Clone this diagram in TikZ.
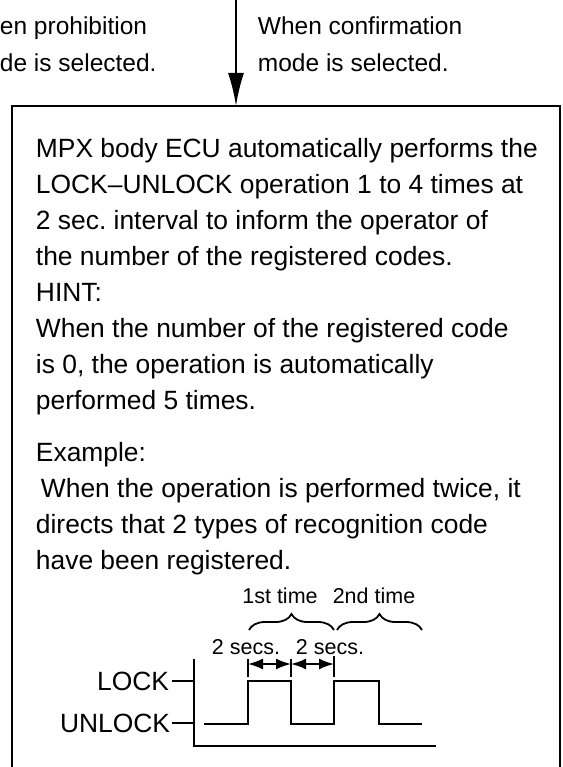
\documentclass[tikz,border=0pt]{standalone}
\usepackage{fontspec}
\setmainfont{Liberation Sans}
\usepackage{tikz}
\usetikzlibrary{positioning}
\usetikzlibrary{arrows.meta}
\usetikzlibrary{decorations.pathreplacing}
\tikzset{bigtxt/.style={font=\fontsize{26.4}{36}\selectfont, align=left, inner sep=0pt}}
\tikzset{headtxt/.style={font=\fontsize{24.5}{37}\selectfont, align=left, inner sep=0pt}}
\tikzset{smalltxt/.style={font=\fontsize{21.5}{25}\selectfont, inner sep=0pt}}
\tikzset{dim/.style={line width=1.8pt, {Latex[length=15pt,width=11pt]}-{Latex[length=15pt,width=11pt]}}}
\tikzset{curly/.style={decorate, decoration={brace, amplitude=16pt}, line width=1.8pt}}
\frenchspacing

\begin{document}
\begin{tikzpicture}[x=1pt,y=-1pt,line width=1.9pt]
\useasboundingbox (0,0) rectangle (562,767);
%\draw[red] (0,0) rectangle (562,767);
\node[headtxt, anchor=north west] (prohib) at (-1,16) {en prohibition\\de is selected.};
\node[headtxt, anchor=north west] (confirm) at (257,16) {When confirmation\\mode is selected.};
\coordinate (src) at (236,0);
\coordinate (boxtop) at (236,106);
\draw[-{Latex[length=33pt,width=16pt]}] (src) -- (boxtop);
% the box, its bottom edge is cut off
\draw (12,767) -- (12,106) -- (560,106) -- (560,767);
\node[bigtxt, anchor=north west] (body) at (35,137) {MPX body ECU automatically performs the\\
LOCK--UNLOCK operation 1 to 4 times at\\
2 sec. interval to inform the operator of\\
the number of the registered codes.\\
HINT:\\
When the number of the registered code\\
is 0, the operation is automatically\\
performed 5 times.\\[16pt]
Example:\\
\hspace*{5pt}When the operation is performed twice, it\\
directs that 2 types of recognition code\\
have been registered.};
% timing chart
\coordinate (ytop) at (194,659);
\coordinate (o) at (194,746);
\coordinate (xend) at (436,746);
\draw (ytop) -- (o) -- (xend);
\node[bigtxt, anchor=east, inner sep=2pt] (lock) at (172,681) {LOCK};
\node[bigtxt, anchor=east, inner sep=1pt] (unlock) at (172,723) {UNLOCK};
\draw (lock.east) -- (lock.east -| o);
\draw (unlock.east) -- (unlock.east -| o);
\draw (204,724) -| (248,681) -| (291,724) -| (334,681) -| (379,724) -- (422,724);
\coordinate (t1) at (248,659);
\coordinate (t2) at (291,659);
\coordinate (t3) at (334,656);
\draw[line width=1.6pt] (t1) -- (248,677);
\draw[line width=1.6pt] (t2) -- (291,677);
\draw[line width=1.6pt] (t3) -- (334,677);
\coordinate (a1) at (248,664);
\coordinate (a2) at (291,664);
\coordinate (a3) at (334,664);
\draw[dim] (a1) -- (a2);
\draw[dim] (a2) -- (a3);
\node[smalltxt] (sec1) at (246,647) {2 secs.};
\node[smalltxt] (sec2) at (330,647) {2 secs.};
\draw[curly] (249,630) -- (334,630);
\draw[curly] (337,630) -- (422,630);
\node[smalltxt] (first) at (280,596) {1st time};
\node[smalltxt] (second) at (374,596) {2nd time};
\end{tikzpicture}
\end{document}
